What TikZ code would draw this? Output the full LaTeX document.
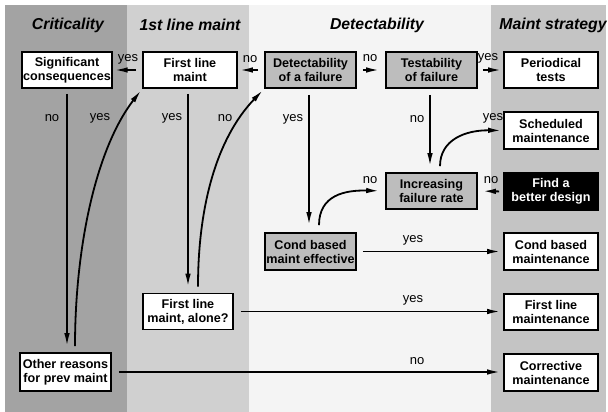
\documentclass[tikz,border=0pt]{standalone}
\usepackage{fontspec}
\setmainfont{Liberation Sans}
\usetikzlibrary{arrows.meta,calc}
\definecolor{colA}{HTML}{A3A3A3}
\definecolor{colB}{HTML}{D0D0D0}
\definecolor{colC}{HTML}{F4F4F4}
\definecolor{colD}{HTML}{C4C4C4}
\definecolor{boxgray}{HTML}{BDBDBD}
\tikzset{
  box/.style={draw=black, line width=1.6pt, fill=white, align=center,
    font=\bfseries\fontsize{12.6}{14}\selectfont, inner sep=1pt,
    minimum height=36pt, minimum width=91pt},
  graybox/.style={box, fill=boxgray},
  blackbox/.style={box, fill=black, text=white},
  hdr/.style={font=\bfseries\itshape\fontsize{15.8}{18}\selectfont},
  lbl/.style={font=\fontsize{13}{15}\selectfont, inner sep=0pt},
  arr/.style={line width=1.8pt, -{Latex[length=13pt,width=5.5pt]}},
}
\begin{document}
\begin{tikzpicture}[x=1pt,y=-1pt]
\useasboundingbox (0,0) rectangle (608,412);
\fill[white] (0,0) rectangle (608,412);
\fill[colA] (5,5) rectangle (127,412);
\fill[colB] (127,5) rectangle (249,412);
\fill[colC] (249,5) rectangle (491,412);
\fill[colD] (491,5) rectangle (606,412);

% headers
\node[hdr] (h1) at (68,25) {Criticality};
\node[hdr] (h2) at (190,25) {1st line maint};
\node[hdr] (h3) at (377,25) {Detectability};
\node[hdr] (h4) at (553,25) {Maint strategy};

% boxes
\node[box, minimum width=88pt] (sig) at (67,70) {Significant\\consequences};
\node[box, minimum width=94pt] (flm) at (190,70) {First line\\maint};
\node[graybox] (det) at (310.5,70) {Detectability\\of a failure};
\node[graybox] (tst) at (431.5,70) {Testability\\of failure};
\node[box, minimum width=94pt] (per) at (551,70) {Periodical\\tests};
\node[box, minimum width=94pt, minimum height=37pt] (sch) at (551,130.5) {Scheduled\\maintenance};
\node[graybox] (inc) at (431.5,191) {Increasing\\failure rate};
\node[blackbox, minimum width=94pt, minimum height=37pt] (fnd) at (551,191.5) {Find a\\better design};
\node[graybox, minimum height=37pt] (cde) at (310.5,251.5) {Cond based\\maint effective};
\node[box, minimum width=94pt, minimum height=37pt] (cbm) at (551,251.5) {Cond based\\maintenance};
\node[box, minimum width=90pt] (fla) at (188,311.5) {First line\\maint, alone?};
\node[box, minimum width=94pt] (flmn) at (551,312) {First line\\maintenance};
\node[box, minimum height=38pt] (oth) at (65.5,372) {Other reasons\\for prev maint};
\node[box, minimum width=94pt, minimum height=37pt] (cor) at (551,372.5) {Corrective\\maintenance};

% top row short arrows
\draw[arr, shorten <=6pt, shorten >=2pt] (flm.west) -- (sig.east);
\draw[arr, shorten <=6pt, shorten >=2pt] (det.west) -- (flm.east);
\draw[arr, shorten <=6pt, shorten >=6pt] (det.east) -- (tst.west);
\draw[arr, shorten <=5pt, shorten >=2pt] (tst.east) -- (per.west);
\node[lbl] (l1) at (128,59) {yes};
\node[lbl] (l2) at (250,59) {no};
\node[lbl] (l3) at (370,58) {no};
\node[lbl] (l4) at (488,58) {yes};

% verticals
\draw[arr, shorten <=5pt, shorten >=6pt] (sig.south) -- (sig.south |- oth.north);
\draw[arr, shorten <=5pt, shorten >=6pt] ([xshift=-2pt]flm.south) -- ([xshift=-2pt]flm.south |- fla.north);
\draw[arr, shorten <=6pt, shorten >=7pt] ([xshift=-1.5pt]det.south) -- ([xshift=-1.5pt]det.south |- cde.north);
\draw[arr, shorten <=6pt, shorten >=6pt] ([xshift=-1.5pt]tst.south) -- ([xshift=-1.5pt]tst.south |- inc.north);
\node[lbl] (l5) at (52,118) {no};
\node[lbl] (l6) at (100,118) {yes};
\node[lbl] (l7) at (172,118) {yes};
\node[lbl] (l8) at (225,118) {no};
\node[lbl] (l9) at (293,119) {yes};
\node[lbl] (l10) at (417,119) {no};

% curves
\draw[arr, shorten <=6pt, shorten >=2pt] ([xshift=9.5pt]oth.north) .. controls (75,250) and (95,150) .. (flm.south west);
\draw[arr, shorten <=6pt, shorten >=2pt] ([xshift=10pt]fla.north) .. controls (198,210) and (215,140) .. (det.south west);
\draw[arr, shorten <=7pt, shorten >=6pt] ([xshift=8.5pt]cde.north) .. controls (319,195) and (345,190) .. (inc.west);
\draw[arr, shorten <=6pt, shorten >=2pt] ([xshift=8.5pt]inc.north) .. controls (440,140) and (465,130) .. (sch.west);
\node[lbl] (l11) at (493,118) {yes};
\node[lbl] (l12) at (370,180) {no};

% find -> inc
\draw[arr, shorten <=4pt, shorten >=5pt] (fnd.west) -- (inc.east);
\node[lbl] (l13) at (491,180) {no};

% long horizontals
\draw[arr, shorten <=6pt, shorten >=3pt] (cde.east) -- (cde.east -| cbm.west);
\draw[arr, shorten <=7pt, shorten >=3pt] (fla.east) -- (fla.east -| flmn.west);
\draw[arr, shorten <=7pt, shorten >=3pt] (oth.east) -- (oth.east -| cor.west);
\node[lbl] (l14) at (413,240) {yes};
\node[lbl] (l15) at (413,300) {yes};
\node[lbl] (l16) at (417,361) {no};
\end{tikzpicture}
\end{document}
